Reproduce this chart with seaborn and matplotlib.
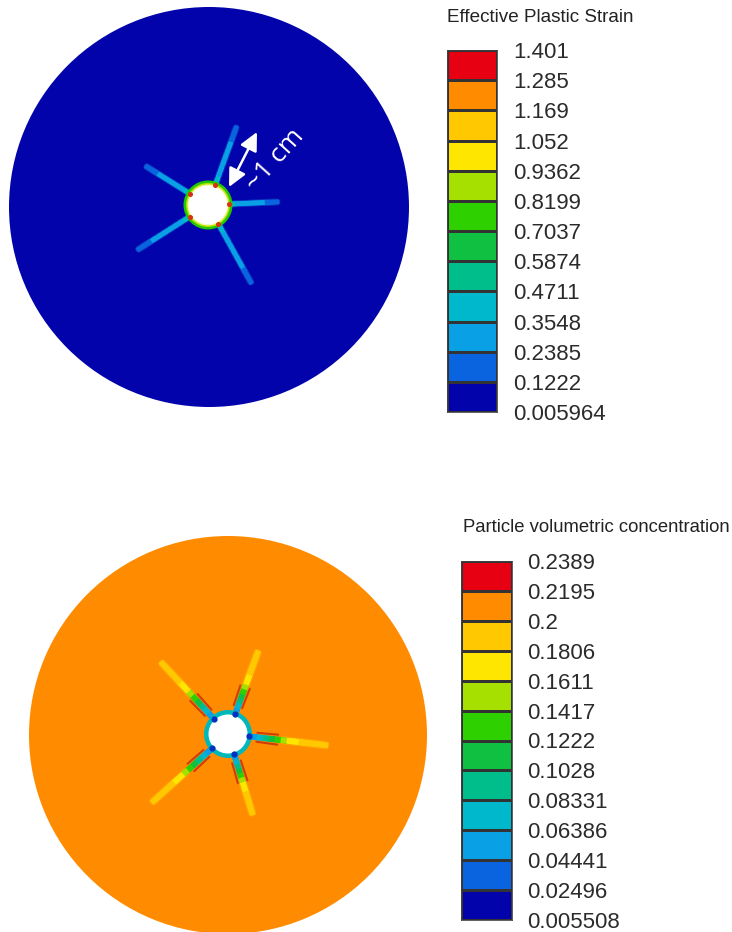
import numpy as np
import seaborn as sns
import matplotlib.pyplot as plt
from matplotlib.collections import LineCollection
from matplotlib.colors import BoundaryNorm, ListedColormap
from matplotlib.patches import Circle

# colour bar levels, top to bottom
strain_labels = ["1.401", "1.285", "1.169", "1.052", "0.9362", "0.8199", "0.7037",
                 "0.5874", "0.4711", "0.3548", "0.2385", "0.1222", "0.005964"]
conc_labels = ["0.2389", "0.2195", "0.2", "0.1806", "0.1611", "0.1417", "0.1222",
               "0.1028", "0.08331", "0.06386", "0.04441", "0.02496", "0.005508"]
level_colors = ["#E60012", "#FF8C00", "#FFC800", "#FFE600", "#A6E000", "#2FD000",
                "#10C040", "#00BE8C", "#00B8CC", "#0AA0E6", "#0A64E0", "#0303AC"]

# crack angle (deg) and tip distance from the hole centre (px)
strain_crack_angle = [70, 148, 2.5, -61, 212.5]
strain_crack_length = [82, 72, 69, 88, 82]
conc_crack_angle = [70, 133, -6.5, -73, 222]
conc_crack_length = [86, 96, 98, 82, 100]

# field value along a crack, root to tip
strain_profile = [0.40, 0.37, 0.33, 0.30, 0.30, 0.28, 0.27, 0.25, 0.23, 0.23]
conc_profile = [0.03, 0.055, 0.075, 0.09, 0.11, 0.13, 0.15, 0.17, 0.175, 0.185, 0.19, 0.185, 0.19]

sns.set_theme(style="white")
plt.rcParams["font.family"] = ["Liberation Sans", "DejaVu Sans"]

W, H = 732, 932
fig = plt.figure(figsize=(W / 100, H / 100), dpi=100)
ax = fig.add_axes([0, 0, 1, 1])
ax.set_xlim(0, W)
ax.set_ylim(H, 0)
ax.axis("off")

cmap = ListedColormap(level_colors[::-1])


def make_norm(labels):
    levels = np.array([float(v) for v in labels])[::-1]
    return levels, BoundaryNorm(levels, len(levels) - 1)


def draw_cracks(cx, cy, angles, lengths, profile, norm, width, halo_from):
    for ang, length in zip(angles, lengths):
        t = np.radians(ang)
        u = np.array([np.cos(t), -np.sin(t)])
        n = np.array([-u[1], u[0]])
        d = np.linspace(20, length, len(profile) + 1)
        xs, ys = cx + u[0] * d, cy + u[1] * d
        # soft edge, the source picture is blurred
        ax.plot(xs[halo_from:], ys[halo_from:], color=cmap(norm(profile[-3])), lw=width * 1.45,
                alpha=0.35, solid_capstyle="round", zorder=2)
        segs = [[(xs[i], ys[i]), (xs[i + 1], ys[i + 1])] for i in range(len(profile))]
        ax.add_collection(LineCollection(segs, colors=cmap(norm(profile)), linewidths=width,
                                         capstyle="projecting", zorder=2))
        yield u, n


def bar(left, top, right, bottom, labels, label_x, title, title_x, title_y, title_size):
    levels, norm = make_norm(labels)
    cax = fig.add_axes([left / W, 1 - bottom / H, (right - left) / W, (bottom - top) / H])
    cells = ((levels[:-1] + levels[1:]) / 2)[::-1].reshape(-1, 1)
    sns.heatmap(cells, ax=cax, cmap=cmap, norm=norm, cbar=False, xticklabels=False,
                yticklabels=False, linewidths=0.8, linecolor="#333333")
    for s in cax.spines.values():
        s.set_visible(True)
        s.set_color("#444444")
        s.set_linewidth(0.6)
    cax.set_yticks(np.arange(len(labels)), labels=labels, rotation=0)
    cax.set_ylim(len(labels) - 1, 0)
    cax.yaxis.tick_right()
    cax.tick_params(axis="y", length=0, labelsize=16, labelcolor="#2b2b2b",
                    pad=(label_x - right) * 0.72)
    fig.text(title_x / W, 1 - title_y / H, title, fontsize=title_size, color="#222222",
             va="center", ha="left")


# upper disc
levels, norm = make_norm(strain_labels)
ax.add_patch(Circle((209, 207), 200, color=cmap(norm(0.06)), lw=0, zorder=1))
for u, n in draw_cracks(208, 205, strain_crack_angle, strain_crack_length, strain_profile,
                        norm, 3.4, 0):
    ax.plot(208 + u[0] * 21.5, 205 + u[1] * 21.5, "o", ms=2.6, color="#D83010", zorder=5)
ax.add_patch(Circle((208, 205), 24.5, facecolor="#22C800", lw=0, zorder=3))
ax.add_patch(Circle((208, 205), 22, facecolor="#B4E400", lw=0, zorder=3))
ax.add_patch(Circle((208, 205), 20.5, facecolor="#F4F8B0", lw=0, zorder=4))
ax.add_patch(Circle((208, 205), 19.2, facecolor="white", lw=0, zorder=4))

ax.annotate("", xy=(257, 132), xytext=(229, 187), zorder=6,
            arrowprops=dict(arrowstyle="<|-|>,head_length=0.55,head_width=0.27", color="white",
                            lw=1.8, mutation_scale=20, shrinkA=0, shrinkB=0))
ax.text(275, 160, "~1 cm", color="white", fontsize=19, rotation=48, ha="center",
        va="center", family=["Open Sans", "DejaVu Sans"], zorder=6)

# lower disc
levels, norm = make_norm(conc_labels)
ax.add_patch(Circle((228, 735), 199, color=cmap(norm(0.21)), lw=0, zorder=1))
for u, n in draw_cracks(228, 734, conc_crack_angle, conc_crack_length, conc_profile,
                        norm, 4.2, 6):
    for side in (-1, 1):
        a, b = 29, 50
        ax.plot([228 + u[0] * a + side * 4.5 * n[0], 228 + u[0] * b + side * 5 * n[0]],
                [734 + u[1] * a + side * 4.5 * n[1], 734 + u[1] * b + side * 5 * n[1]],
                color="#C83008", lw=1.5, alpha=0.85, zorder=2)
    ax.plot(228 + u[0] * 21, 734 + u[1] * 21, "o", ms=3.5, color="#0030C0", zorder=5)
ax.add_patch(Circle((228, 734), 24, facecolor="#00B8BC", lw=0, zorder=3))
ax.add_patch(Circle((228, 734), 19.5, facecolor="white", lw=0, zorder=4))

# colour bars
bar(447, 50, 497, 412, strain_labels, 513, "Effective Plastic Strain", 447, 17, 13.6)
bar(461, 561, 512, 920, conc_labels, 527, "Particle volumetric concentration", 463, 528, 13.3)

fig.savefig("out.png", dpi=100, facecolor="white")
